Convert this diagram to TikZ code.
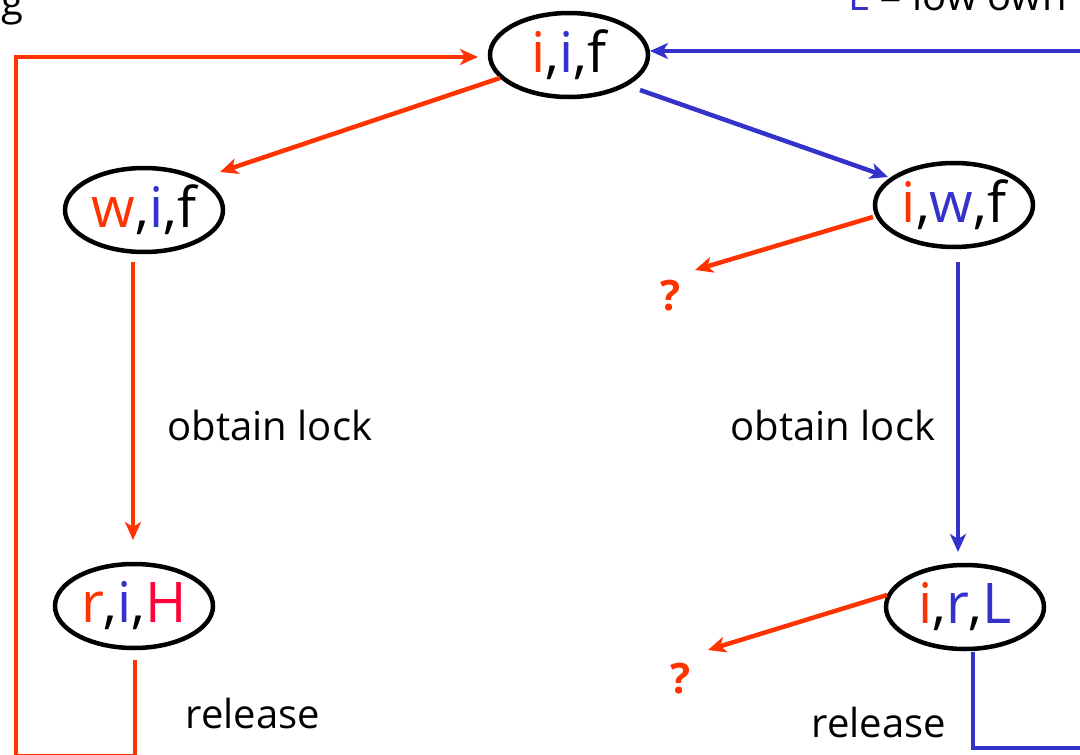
\documentclass[tikz,border=0pt]{standalone}
\usepackage{fontspec}
\setmainfont{Open Sans}
\usetikzlibrary{shapes.geometric,arrows.meta,calc}
\definecolor{cred}{HTML}{FF3300}
\definecolor{cblue}{HTML}{3333CC}
\definecolor{chigh}{HTML}{FF0038}
\tikzset{
  state/.style={ellipse,draw=black,line width=4.5pt,minimum width=158pt,minimum height=84pt,inner sep=0pt,font=\fontsize{56}{62}\selectfont},
  lbl/.style={font=\fontsize{40}{46}\selectfont,text=black,inner sep=0pt},
  qm/.style={font=\fontsize{42}{48}\selectfont\bfseries,text=cred,inner sep=0pt},
  redline/.style={draw=cred,line width=4.5pt},
  blueline/.style={draw=cblue,line width=4.5pt},
  tip/.style={-{Stealth[length=18pt,width=16pt,inset=5pt]}},
}
\begin{document}
\begin{tikzpicture}[x=1pt,y=-1pt]
\useasboundingbox (0,0) rectangle (1080,755);
\clip (0,0) rectangle (1080,755);
% partial texts at the top edge
\node[lbl,anchor=base east] (topl) at (24,15) {g};
\node[lbl,anchor=base west] (topr) at (848,10) {{\color{cblue}L} = low own};
% states
\node[state] (iif) at (569,55) {{\color{cred}i},{\color{cblue}i},f};
\node[state] (wif) at (144,210) {{\color{cred}w},{\color{cblue}i},f};
\node[state] (iwf) at (954,205) {{\color{cred}i},{\color{cblue}w},f};
\node[state] (riH) at (134,606) {{\color{cred}r},{\color{cblue}i},{\color{chigh}H}};
\node[state] (irL) at (965,607) {{\color{cred}i},{\color{cblue}r},{\color{cblue}L}};
% question marks
\node[qm] (q1) at (671,296) {?};
\node[qm] (q2) at (681,679) {?};
% labels
\node[lbl] (ol1) at (270,425) {obtain lock};
\node[lbl] (ol2) at (833,425) {obtain lock};
\node[lbl] (rl1) at (253,713) {release};
\node[lbl] (rl2) at (879,722) {release};
% connectors
\draw[redline,tip] ($(iif.center)+(-69,23)$) -- ($(wif.center)+(76,-38)$);
\draw[blueline,tip] ($(iif.center)+(71,35)$) -- ($(iwf.center)+(-66,-28)$);
\draw[redline,tip] ($(wif.center)+(-11,52)$) -- ($(riH.center)+(-1,-66)$);
\draw[blueline,tip] ($(iwf.center)+(4,57)$) -- ($(irL.center)+(-7,-55)$);
\draw[redline,tip] ($(iwf.center)+(-81,12)$) -- ($(q1.center)+(24,-26)$);
\draw[redline,tip] ($(irL.center)+(-78,-12)$) -- ($(q2.center)+(27,-29)$);
\draw[redline,tip] ($(riH.center)+(1,54)$) -- ++(0,96) -| (16,57) -- ($(iif.center)+(-91,2)$);
\draw[blueline,tip] ($(irL.center)+(8,45)$) -- ++(0,96) -| (1090,51) -- ($(iif.center)+(81,-4)$);
\end{tikzpicture}
\end{document}
